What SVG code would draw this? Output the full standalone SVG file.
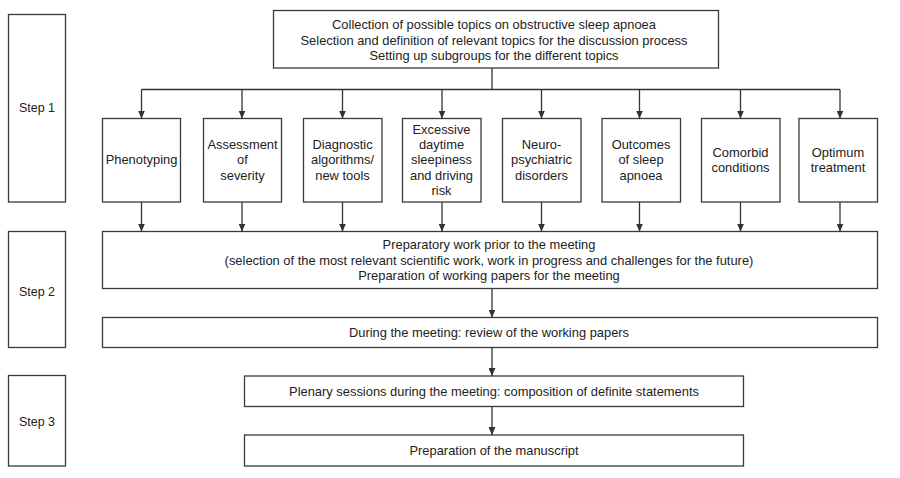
<svg xmlns="http://www.w3.org/2000/svg" width="900" height="478" viewBox="0 0 900 478">
<defs>
<marker id="ah" markerWidth="8" markerHeight="7" refX="8" refY="3.5" orient="auto" markerUnits="userSpaceOnUse">
<path d="M0,0 L8,3.5 L0,7 Z" fill="#333"/>
</marker>
<style>
rect{fill:#fff;stroke:#3a3a3a;stroke-width:1.3}
text{font-family:"Liberation Sans",Arial,sans-serif;font-size:12.9px;fill:#222;text-anchor:middle;dominant-baseline:central}
.s{font-size:12.5px}
.c line,.c path{stroke:#333;stroke-width:1.3;fill:none}
.a{marker-end:url(#ah)}
</style>
</defs>
<rect width="900" height="478" style="fill:#fff;stroke:none"/>
<g id="step1"><rect x="8.5" y="14.5" width="57" height="187.5"/><text class="s" x="37" y="107.5">Step 1</text></g>
<g id="step2"><rect x="8.5" y="231.5" width="57" height="116"/><text class="s" x="37" y="291.5">Step 2</text></g>
<g id="step3"><rect x="8.5" y="375.5" width="57" height="90.5"/><text class="s" x="37" y="421.5">Step 3</text></g>
<g id="top"><rect x="273.5" y="10.5" width="445" height="57.5"/>
<text x="494" y="24.5">Collection of possible topics on obstructive sleep apnoea</text>
<text x="494" y="40">Selection and definition of relevant topics for the discussion process</text>
<text x="494" y="55">Setting up subgroups for the different topics</text></g>
<g id="t1"><rect x="102.5" y="118.5" width="78" height="83.5"/><text x="141.5" y="159.5">Phenotyping</text></g>
<g id="t2"><rect x="203.5" y="118.5" width="78" height="83.5"/><text x="242.5" y="144.5">Assessment</text><text x="242.5" y="159.5">of</text><text x="242.5" y="175">severity</text></g>
<g id="t3"><rect x="303.5" y="118.5" width="78.5" height="83.5"/><text x="342.5" y="144.5">Diagnostic</text><text x="342.5" y="159.5">algorithms/</text><text x="342.5" y="175">new tools</text></g>
<g id="t4"><rect x="402.5" y="118.5" width="78.5" height="83.5"/><text x="441.5" y="129.3">Excessive</text><text x="441.5" y="144.6">daytime</text><text x="441.5" y="159.9">sleepiness</text><text x="441.5" y="175.2">and driving</text><text x="441.5" y="190.5">risk</text></g>
<g id="t5"><rect x="502.5" y="118.5" width="78.5" height="83.5"/><text x="541.5" y="144.5">Neuro-</text><text x="541.5" y="159.5">psychiatric</text><text x="541.5" y="175">disorders</text></g>
<g id="t6"><rect x="602" y="118.5" width="78.5" height="83.5"/><text x="641" y="144.5">Outcomes</text><text x="641" y="159.5">of sleep</text><text x="641" y="175">apnoea</text></g>
<g id="t7"><rect x="701.5" y="118.5" width="78.5" height="83.5"/><text x="740.5" y="152">Comorbid</text><text x="740.5" y="167.5">conditions</text></g>
<g id="t8"><rect x="799" y="118.5" width="78.5" height="83.5"/><text x="838" y="152">Optimum</text><text x="838" y="167.5">treatment</text></g>
<g id="prep"><rect x="102.5" y="231.5" width="775" height="57"/>
<text x="489" y="244.5">Preparatory work prior to the meeting</text>
<text x="489" y="260">(selection of the most relevant scientific work, work in progress and challenges for the future)</text>
<text x="489" y="275">Preparation of working papers for the meeting</text></g>
<g id="during"><rect x="102.5" y="317.5" width="775" height="30"/><text x="489" y="332.5">During the meeting: review of the working papers</text></g>
<g id="plenary"><rect x="244.5" y="376" width="499" height="30.5"/><text x="494" y="391.5">Plenary sessions during the meeting: composition of definite statements</text></g>
<g id="manuscript"><rect x="244.5" y="435" width="499" height="31"/><text x="494" y="450.5">Preparation of the manuscript</text></g>
<g id="connectors" class="c">
<line x1="492" y1="68" x2="492" y2="89.5"/>
<line x1="141.5" y1="89.5" x2="840" y2="89.5"/>
<line class="a" x1="141.5" y1="89.5" x2="141.5" y2="118.5"/>
<line class="a" x1="242" y1="89.5" x2="242" y2="118.5"/>
<line class="a" x1="342.5" y1="89.5" x2="342.5" y2="118.5"/>
<line class="a" x1="442" y1="89.5" x2="442" y2="118.5"/>
<line class="a" x1="541.5" y1="89.5" x2="541.5" y2="118.5"/>
<line class="a" x1="639.5" y1="89.5" x2="639.5" y2="118.5"/>
<line class="a" x1="740.5" y1="89.5" x2="740.5" y2="118.5"/>
<line class="a" x1="840" y1="89.5" x2="840" y2="118.5"/>
<line class="a" x1="141.5" y1="202" x2="141.5" y2="231.5"/>
<line class="a" x1="242" y1="202" x2="242" y2="231.5"/>
<line class="a" x1="342.5" y1="202" x2="342.5" y2="231.5"/>
<line class="a" x1="442" y1="202" x2="442" y2="231.5"/>
<line class="a" x1="541.5" y1="202" x2="541.5" y2="231.5"/>
<line class="a" x1="639.5" y1="202" x2="639.5" y2="231.5"/>
<line class="a" x1="740.5" y1="202" x2="740.5" y2="231.5"/>
<line class="a" x1="840" y1="202" x2="840" y2="231.5"/>
<line class="a" x1="492" y1="288.5" x2="492" y2="317.5"/>
<line class="a" x1="492" y1="347.5" x2="492" y2="376"/>
<line class="a" x1="492" y1="406.5" x2="492" y2="435"/>
</g>
</svg>
